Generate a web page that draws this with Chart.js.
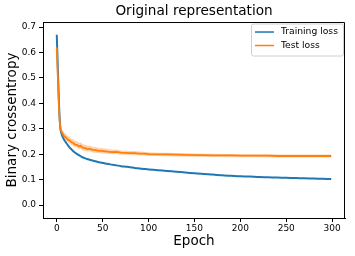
<!DOCTYPE html>
<html>
<head>
<meta charset="utf-8">
<script src="https://cdn.jsdelivr.net/npm/chart.js@4.4.0/dist/chart.umd.min.js"></script>
<style>
  html, body { margin: 0; padding: 0; background: #fff; }
  #wrap { width: 355px; height: 256px; }
</style>
</head>
<body>
<div id="wrap"><canvas id="myChart" width="355" height="256"></canvas></div>
<script>
// values
const epochs = [0, 1, 2, 3, 4, 5, 6, 7, 8, 10, 12, 14, 16, 18, 20, 22, 24, 26, 28, 30,
  33, 36, 39, 42, 45, 48, 51, 55, 60, 65, 70, 75, 80, 85, 90, 95, 100,
  110, 120, 130, 140, 150, 160, 170, 180, 190, 200, 210, 220, 230, 240, 250, 260, 270, 280, 290, 299];

const trainLoss = [0.670, 0.555, 0.445, 0.350, 0.300, 0.282, 0.272, 0.264, 0.257,
  0.246, 0.236, 0.226, 0.219, 0.212, 0.206, 0.201, 0.196, 0.192, 0.188, 0.185,
  0.181, 0.178, 0.175, 0.172, 0.169, 0.167, 0.165, 0.162,
  0.159, 0.156, 0.153, 0.151, 0.149, 0.146, 0.144, 0.142, 0.140,
  0.137, 0.134, 0.131, 0.128, 0.125, 0.122, 0.120, 0.117, 0.115, 0.113,
  0.112, 0.110, 0.109, 0.108, 0.107, 0.106, 0.105, 0.104, 0.103, 0.102];

const testLoss = [0.620, 0.520, 0.420, 0.340, 0.300, 0.291, 0.282, 0.279, 0.270,
  0.266, 0.257, 0.254, 0.247, 0.244, 0.238, 0.237, 0.231, 0.233, 0.226, 0.225,
  0.221, 0.221, 0.217, 0.216, 0.214, 0.213, 0.212, 0.210,
  0.208, 0.209, 0.206, 0.205, 0.204, 0.204, 0.202, 0.202, 0.200,
  0.199, 0.199, 0.198, 0.197, 0.196, 0.196, 0.195, 0.195, 0.195, 0.194,
  0.194, 0.194, 0.194, 0.193, 0.193, 0.193, 0.193, 0.193, 0.193, 0.193];

// shaded spread around the test loss
const testHigh = [0.625, 0.525, 0.425, 0.345, 0.306, 0.301, 0.293, 0.292, 0.283, 0.281,
  0.272, 0.270, 0.261, 0.259, 0.252, 0.251, 0.245, 0.247, 0.239, 0.238,
  0.234, 0.233, 0.229, 0.228, 0.225, 0.224, 0.223, 0.221, 0.218, 0.218,
  0.215, 0.214, 0.213, 0.213, 0.211, 0.210, 0.208, 0.206, 0.206, 0.205,
  0.204, 0.203, 0.202, 0.202, 0.201, 0.201, 0.200, 0.200, 0.200, 0.200,
  0.199, 0.199, 0.199, 0.199, 0.199, 0.199, 0.199];
const testLow = [0.615, 0.515, 0.415, 0.335, 0.294, 0.282, 0.273, 0.268, 0.260, 0.254,
  0.246, 0.241, 0.236, 0.232, 0.227, 0.225, 0.220, 0.221, 0.215, 0.214,
  0.211, 0.211, 0.207, 0.206, 0.205, 0.204, 0.203, 0.202, 0.200, 0.201,
  0.198, 0.198, 0.197, 0.196, 0.195, 0.195, 0.193, 0.193, 0.192, 0.191,
  0.190, 0.190, 0.189, 0.189, 0.189, 0.188, 0.188, 0.188, 0.188, 0.187,
  0.187, 0.187, 0.187, 0.187, 0.187, 0.187, 0.187];

const xTicks = [0, 50, 100, 150, 200, 250, 300];
const yTicks = [0.0, 0.1, 0.2, 0.3, 0.4, 0.5, 0.6, 0.7];
const seriesNames = ["Training loss", "Test loss"];

const BLUE = "#1f77b4";
const ORANGE = "#ff7f0e";
const FONT = "'DejaVu Sans', sans-serif";

function pts(ys) {
  return epochs.map((e, i) => ({ x: e, y: ys[i] }));
}

// top and right spines
const framePlugin = {
  id: "frame",
  afterDraw(chart) {
    const { ctx, chartArea: a } = chart;
    ctx.save();
    ctx.strokeStyle = "#000";
    ctx.lineWidth = 1;
    ctx.beginPath();
    ctx.moveTo(a.left, a.top + 0.5);
    ctx.lineTo(a.right - 0.5, a.top + 0.5);
    ctx.lineTo(a.right - 0.5, a.bottom);
    ctx.stroke();
    ctx.restore();
  }
};

// legend box in upper right, inside the axes
const boxLegend = {
  id: "boxLegend",
  afterDraw(chart) {
    const { ctx, chartArea: a } = chart;
    const items = chart.data.datasets.filter(d => seriesNames.includes(d.label));
    const w = 92, h = 32;
    const x = a.right - w - 2, y = a.top + 1.5;
    ctx.save();
    ctx.fillStyle = "rgba(255,255,255,0.8)";
    ctx.strokeStyle = "#d0d0d0";
    ctx.lineWidth = 1;
    ctx.beginPath();
    ctx.roundRect(x + 0.5, y + 0.5, w, h, 2);
    ctx.fill();
    ctx.stroke();
    ctx.font = "9.2px " + FONT;
    ctx.textBaseline = "middle";
    items.forEach((d, i) => {
      const ly = y + 8.5 + i * 13.5;
      ctx.strokeStyle = d.borderColor;
      ctx.lineWidth = 1.5;
      ctx.beginPath();
      ctx.moveTo(x + 4, ly);
      ctx.lineTo(x + 23, ly);
      ctx.stroke();
      ctx.fillStyle = "#000";
      ctx.fillText(d.label, x + 30, ly);
    });
    ctx.restore();
  }
};

const ctx = document.getElementById("myChart");
new Chart(ctx, {
  type: "line",
  data: {
    datasets: [
      {
        label: seriesNames[0],
        data: pts(trainLoss),
        borderColor: BLUE,
        borderWidth: 2,
        pointRadius: 0,
        tension: 0.3,
        order: 2
      },
      {
        label: seriesNames[1],
        data: pts(testLoss),
        borderColor: ORANGE,
        borderWidth: 1.8,
        pointRadius: 0,
        tension: 0,
        order: 0
      },
      {
        label: "",
        data: pts(testHigh),
        borderWidth: 0,
        borderColor: "rgba(0,0,0,0)",
        backgroundColor: "rgba(255,127,14,0.35)",
        pointRadius: 0,
        fill: "+1",
        order: 1
      },
      {
        label: "",
        data: pts(testLow),
        borderWidth: 0,
        borderColor: "rgba(0,0,0,0)",
        pointRadius: 0,
        fill: false,
        order: 1
      }
    ]
  },
  options: {
    responsive: false,
    animation: false,
    layout: { padding: { left: 0, right: 10, top: 0, bottom: 0 } },
    plugins: {
      legend: { display: false },
      tooltip: { enabled: false },
      title: {
        display: true,
        text: "Original representation",
        fullSize: false,
        color: "#000",
        font: { family: FONT, size: 13.6, weight: "normal" },
        padding: { top: 3, bottom: 2.7 }
      }
    },
    scales: {
      x: {
        type: "linear",
        min: -15,
        max: 314,
        afterBuildTicks: s => { s.ticks = xTicks.map(v => ({ value: v })); },
        afterFit: s => { s.height = 38; },
        ticks: { color: "#000", font: { family: FONT, size: 9 }, padding: 1, maxRotation: 0 },
        grid: { drawOnChartArea: false, drawTicks: true, tickLength: 4, color: "#000" },
        border: { color: "#000", width: 1 },
        title: {
          display: true,
          text: "Epoch",
          color: "#000",
          font: { family: FONT, size: 13.5 },
          padding: { top: 0, bottom: 6.5 }
        }
      },
      y: {
        min: -0.051,
        max: 0.72,
        afterBuildTicks: s => { s.ticks = yTicks.map(v => ({ value: v })); },
        afterFit: s => { s.width = 43; },
        ticks: {
          color: "#000",
          font: { family: FONT, size: 9 },
          padding: 3,
          callback: v => v.toFixed(1)
        },
        grid: { drawOnChartArea: false, drawTicks: true, tickLength: 4, color: "#000" },
        border: { color: "#000", width: 1 },
        title: {
          display: true,
          text: "Binary crossentropy",
          color: "#000",
          font: { family: FONT, size: 13.5 },
          padding: { top: 4, bottom: 0 }
        }
      }
    }
  },
  plugins: [framePlugin, boxLegend]
});
</script>
</body>
</html>
